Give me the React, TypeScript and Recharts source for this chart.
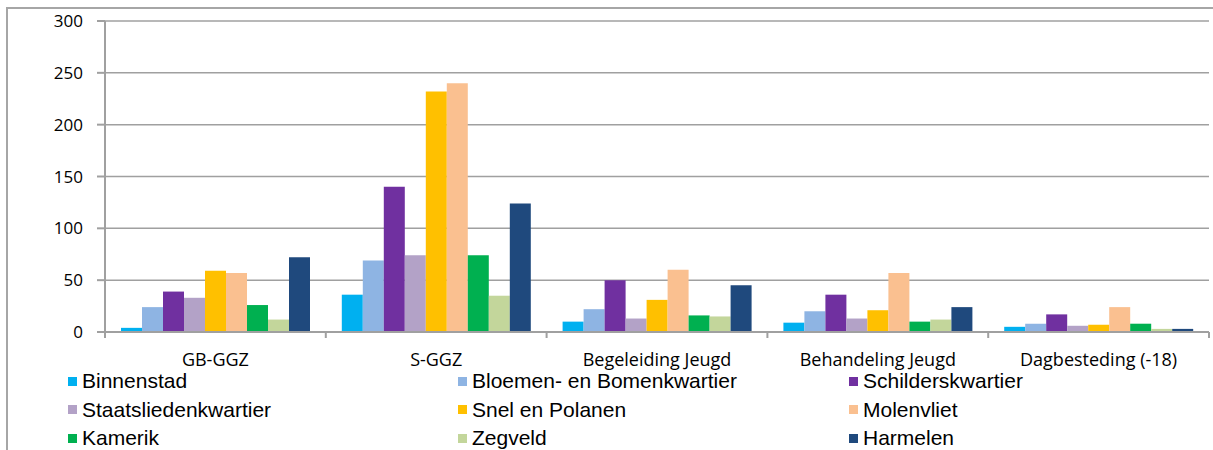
import { BarChart, Bar, XAxis, YAxis, CartesianGrid, Legend } from "recharts";

const categories = ["GB-GGZ", "S-GGZ", "Begeleiding Jeugd", "Behandeling Jeugd", "Dagbesteding (-18)"];

const binnenstad = [4, 36, 10, 9, 5];
const bloemenBomen = [24, 69, 22, 20, 8];
const schilderskwartier = [39, 140, 50, 36, 17];
const staatsliedenkwartier = [33, 74, 13, 13, 6];
const snelPolanen = [59, 232, 31, 21, 7];
const molenvliet = [57, 240, 60, 57, 24];
const kamerik = [26, 74, 16, 10, 8];
const zegveld = [12, 35, 15, 12, 3];
const harmelen = [72, 124, 45, 24, 3];

const yTicks = [0, 50, 100, 150, 200, 250, 300];

const series = [
  { key: "binnenstad", name: "Binnenstad", color: "#00B0F0", values: binnenstad },
  { key: "bloemen", name: "Bloemen- en Bomenkwartier", color: "#8EB4E3", values: bloemenBomen },
  { key: "schilders", name: "Schilderskwartier", color: "#7030A0", values: schilderskwartier },
  { key: "staats", name: "Staatsliedenkwartier", color: "#B3A2C7", values: staatsliedenkwartier },
  { key: "snel", name: "Snel en Polanen", color: "#FFC000", values: snelPolanen },
  { key: "molen", name: "Molenvliet", color: "#FAC090", values: molenvliet },
  { key: "kamerik", name: "Kamerik", color: "#00B050", values: kamerik },
  { key: "zegveld", name: "Zegveld", color: "#C3D69B", values: zegveld },
  { key: "harmelen", name: "Harmelen", color: "#1F497D", values: harmelen },
];

const data = categories.map((cat, i) => {
  const row: Record<string, string | number> = { category: cat };
  series.forEach((s) => (row[s.key] = s.values[i]));
  return row;
});

const W = 1205;
const H = 441;
const MARGIN = { top: 12, right: 4, bottom: 0, left: 0 };
const Y_AXIS_W = 97;
const AXIS_COLOR = "#A0A0A0";
const HALF_BAND = (W - MARGIN.left - MARGIN.right - Y_AXIS_W) / categories.length / 2;

const CategoryTick = (props: any) => {
  const { x, y, payload, index } = props;
  return (
    <g>
      <line x1={x - HALF_BAND} y1={y} x2={x - HALF_BAND} y2={y + 6} stroke={AXIS_COLOR} strokeWidth={2} />
      {index === categories.length - 1 && (
        <line x1={x + HALF_BAND} y1={y} x2={x + HALF_BAND} y2={y + 6} stroke={AXIS_COLOR} strokeWidth={2} />
      )}
      <text x={x} y={y + 34} textAnchor="middle" fill="#000" fontSize={18} fontFamily="'Open Sans', sans-serif">
        {payload.value}
      </text>
    </g>
  );
};

// legend in the original column order (Recharts would sort it by name)
const LegendGrid = () => (
  <div
    style={{
      height: 88,
      boxSizing: "border-box",
      paddingTop: 5,
      paddingLeft: 60,
      display: "grid",
      gridTemplateColumns: "390px 391px 391px",
      gridAutoRows: "28.5px",
      fontFamily: "'Liberation Sans', Arial, sans-serif",
      fontSize: 21,
      color: "#000",
    }}
  >
    {series.map((s) => (
      <div key={s.key} style={{ display: "flex", alignItems: "center", whiteSpace: "nowrap" }}>
        <span style={{ width: 9, height: 9, background: s.color, marginRight: 5, flex: "none" }} />
        <span>{s.name}</span>
      </div>
    ))}
  </div>
);

export default function App() {
  return (
    <>
      <div
        style={{
          position: "fixed",
          left: 6,
          top: 7,
          width: 1207,
          height: 443,
          borderLeft: "2px solid #A6A6A6",
          borderTop: "2px solid #A6A6A6",
          boxSizing: "border-box",
          background: "#fff",
        }}
      />
      <div style={{ position: "fixed", left: 8, top: 9, width: W, height: H, overflow: "hidden" }}>
        <BarChart width={W} height={H} data={data} margin={MARGIN} barCategoryGap={16} barGap={0}>
          <CartesianGrid horizontal vertical={false} stroke={AXIS_COLOR} strokeWidth={1.5} />
          <XAxis
            dataKey="category"
            interval={0}
            height={30}
            tickSize={0}
            tickMargin={0}
            tickLine={false}
            axisLine={{ stroke: AXIS_COLOR, strokeWidth: 2 }}
            tick={<CategoryTick />}
          />
          <YAxis
            width={Y_AXIS_W}
            domain={[0, 300]}
            ticks={yTicks}
            interval={0}
            tickSize={8}
            tickMargin={14}
            axisLine={{ stroke: AXIS_COLOR, strokeWidth: 2 }}
            tickLine={{ stroke: AXIS_COLOR, strokeWidth: 2 }}
            tick={{ fill: "#000", fontSize: 17, fontFamily: "'Open Sans', sans-serif" }}
          />
          {series.map((s) => (
            <Bar key={s.key} dataKey={s.key} name={s.name} fill={s.color} isAnimationActive={false} />
          ))}
          <Legend verticalAlign="bottom" content={<LegendGrid />} wrapperStyle={{ left: 0, width: W }} />
        </BarChart>
      </div>
    </>
  );
}
